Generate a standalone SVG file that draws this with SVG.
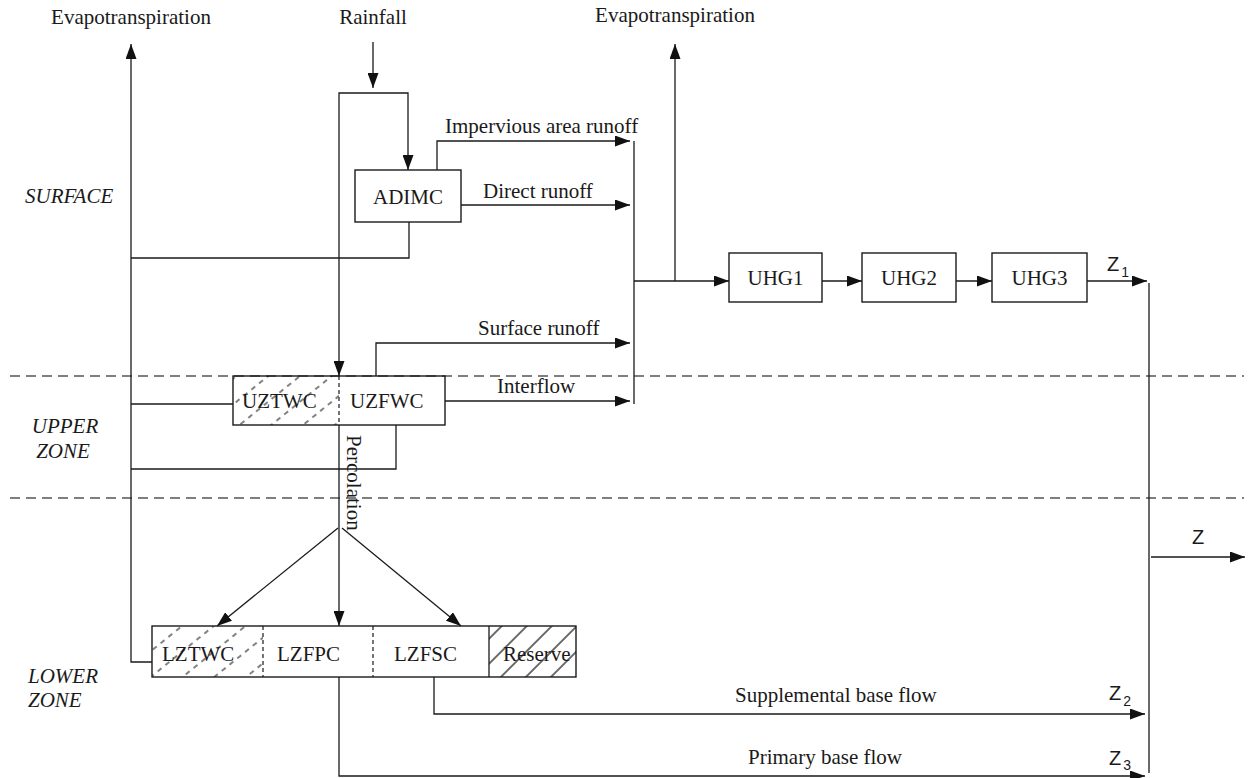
<svg xmlns="http://www.w3.org/2000/svg" width="1252" height="778" viewBox="0 0 1252 778">
<style>
.t{font-family:"Liberation Serif","Times New Roman",serif;font-size:21px;fill:#1a1a1a}
.i{font-style:italic}
.z{font-family:"Liberation Sans",Arial,sans-serif;font-size:20px;fill:#1a1a1a}
.zs{font-family:"Liberation Sans",Arial,sans-serif;font-size:14px;fill:#1a1a1a}
.box{fill:none;stroke:#1a1a1a;stroke-width:1.4}
.ln{fill:none;stroke:#1a1a1a;stroke-width:1.3}
.ar{marker-end:url(#ah)}
.zone{fill:none;stroke:#555;stroke-width:1.3;stroke-dasharray:10 6}
.div{stroke:#1a1a1a;stroke-width:1.2;stroke-dasharray:4 3}
</style>
<defs>
<marker id="ah" markerWidth="15" markerHeight="11" refX="15" refY="5.5" orient="auto" markerUnits="userSpaceOnUse"><path d="M0,0 L15,5.5 L0,11 z" fill="#111"/></marker>
<pattern id="dh" patternUnits="userSpaceOnUse" width="10" height="20" patternTransform="rotate(-39)"><line x1="0" y1="1" x2="5" y2="1" stroke="#1a1a1a" stroke-width="1.1"/></pattern>
<pattern id="sh" patternUnits="userSpaceOnUse" width="10" height="17.7" patternTransform="rotate(-45)"><line x1="0" y1="1" x2="10" y2="1" stroke="#1a1a1a" stroke-width="1.3"/></pattern>
</defs>

<g id="zones">
<path class="zone" d="M10,376 H1244"/>
<path class="zone" d="M10,498 H1244"/>
</g>

<g id="connectors">
<path class="ln ar" d="M152,662 H131 V44"/>
<path class="ln" d="M409,222 V258 H131"/>
<path class="ln" d="M233,404 H131"/>
<path class="ln" d="M396,425 V469 H131"/>
<path class="ln ar" d="M373,42 V88"/>
<path class="ln ar" d="M373,93 H408 V170"/>
<path class="ln ar" d="M373,93 H339 V376"/>
<path class="ln ar" d="M437,170 V141 H630"/>
<path class="ln ar" d="M461,205 H630"/>
<path class="ln ar" d="M376,376 V343 H630"/>
<path class="ln ar" d="M445,401 H630"/>
<path class="ln" d="M634,141 V404"/>
<path class="ln ar" d="M634,281 H729"/>
<path class="ln ar" d="M675,281 V44"/>
<path class="ln ar" d="M822,281 H862"/>
<path class="ln ar" d="M956,281 H992"/>
<path class="ln ar" d="M1087,281 H1147"/>
<path class="ln" d="M1149,283 V773"/>
<path class="ln ar" d="M1151,557 H1245"/>
<path class="ln ar" d="M339,425 V626"/>
<path class="ln ar" d="M338,528 L217,626"/>
<path class="ln ar" d="M342,528 L461,626"/>
<path class="ln ar" d="M339,677 V776 H1145"/>
<path class="ln ar" d="M434,677 V714 H1145"/>
</g>

<g id="labels">
<text class="t" x="131" y="24" text-anchor="middle">Evapotranspiration</text>
<text class="t" x="373" y="24" text-anchor="middle">Rainfall</text>
<text class="t" x="675" y="22" text-anchor="middle">Evapotranspiration</text>
<text class="t" x="445" y="133">Impervious area runoff</text>
<text class="t" x="483" y="198">Direct runoff</text>
<text class="t" x="478" y="335">Surface runoff</text>
<text class="t" x="497" y="393">Interflow</text>
<text class="t" transform="translate(347,435) rotate(90)">Percolation</text>
<text class="t" x="735" y="702">Supplemental base flow</text>
<text class="t" x="748" y="764">Primary base flow</text>
<text class="t i" x="25" y="203">SURFACE</text>
<text class="t i" x="65" y="433" text-anchor="middle">UPPER</text>
<text class="t i" x="63" y="458" text-anchor="middle">ZONE</text>
<text class="t i" x="28" y="683">LOWER</text>
<text class="t i" x="28" y="707">ZONE</text>
<text class="z" x="1107" y="271">Z<tspan class="zs" dx="2" dy="6">1</tspan></text>
<text class="z" x="1192" y="544">Z</text>
<text class="z" x="1109" y="700">Z<tspan class="zs" dx="2" dy="6">2</tspan></text>
<text class="z" x="1109" y="765">Z<tspan class="zs" dx="2" dy="5">3</tspan></text>
</g>

<g id="ADIMC">
<rect class="box" x="355" y="170" width="106" height="52"/>
<text class="t" x="408" y="204" text-anchor="middle">ADIMC</text>
</g>

<g id="UZ">
<rect x="233" y="376" width="106" height="49" fill="url(#dh)"/>
<rect class="box" x="233" y="376" width="212" height="49"/>
<line class="div" x1="339" y1="376" x2="339" y2="425"/>
<text class="t" x="242" y="408">UZTWC</text>
<text class="t" x="350" y="408">UZFWC</text>
</g>

<g id="LZ">
<rect x="152" y="626" width="111" height="51" fill="url(#dh)"/>
<rect x="489" y="626" width="87" height="51" fill="url(#sh)"/>
<rect class="box" x="152" y="626" width="424" height="51"/>
<line class="div" x1="263" y1="626" x2="263" y2="677"/>
<line class="div" x1="373" y1="626" x2="373" y2="677"/>
<line class="ln" x1="489" y1="626" x2="489" y2="677"/>
<text class="t" x="162" y="661">LZTWC</text>
<text class="t" x="277" y="661">LZFPC</text>
<text class="t" x="394" y="661">LZFSC</text>
<text class="t" x="503" y="661">Reserve</text>
</g>

<g id="UHG1">
<rect class="box" x="729" y="253" width="93" height="49"/>
<text class="t" x="775.5" y="285" text-anchor="middle">UHG1</text>
</g>
<g id="UHG2">
<rect class="box" x="862" y="253" width="94" height="49"/>
<text class="t" x="909" y="285" text-anchor="middle">UHG2</text>
</g>
<g id="UHG3">
<rect class="box" x="992" y="253" width="95" height="49"/>
<text class="t" x="1039.5" y="285" text-anchor="middle">UHG3</text>
</g>
</svg>
